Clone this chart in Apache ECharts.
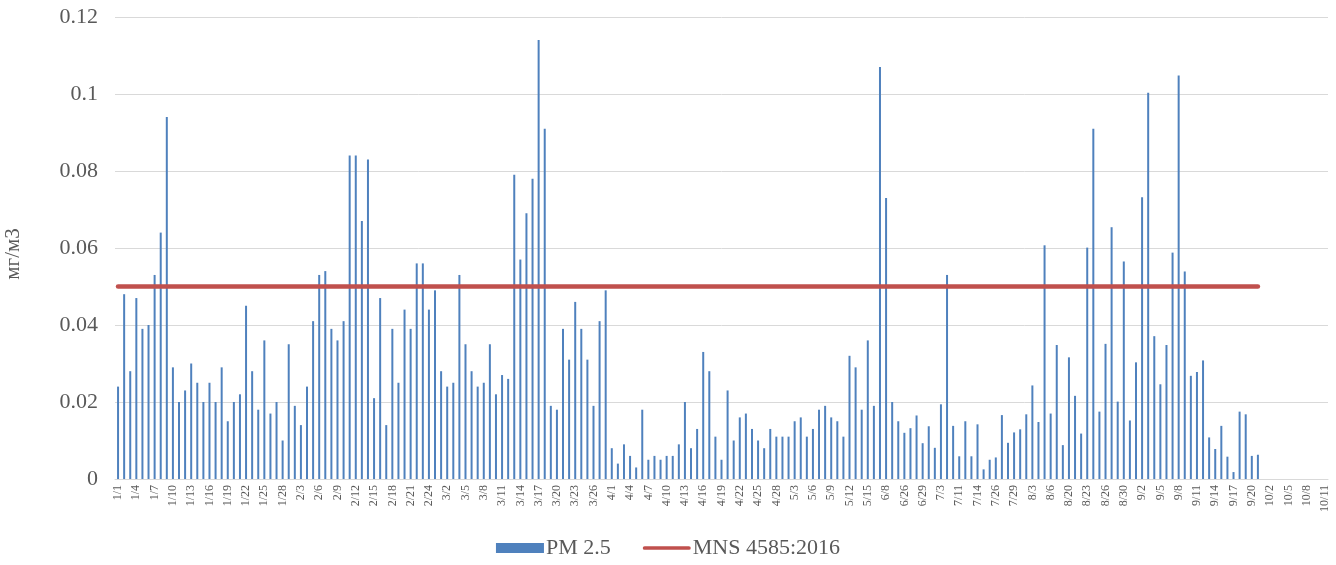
<!DOCTYPE html>
<html style="height: 100%">
    <head>
        <meta charset="utf-8">
    </head>
    <body style="height: 100%; margin: 0">
        <div id="container" style="width: 1336px; height: 565px"></div>

        <script type="text/javascript" src="https://cdn.jsdelivr.net/npm/echarts@6/dist/echarts.min.js"></script>

        <script type="text/javascript">
var dates = [
    '1/1','1/2','1/3','1/4','1/5','1/6','1/7','1/8','1/9','1/10',
    '1/11','1/12','1/13','1/14','1/15','1/16','1/17','1/18','1/19','1/20',
    '1/21','1/22','1/23','1/24','1/25','1/26','1/27','1/28','1/30','2/1',
    '2/3','2/4','2/5','2/6','2/7','2/8','2/9','2/10','2/11','2/12',
    '2/13','2/14','2/15','2/16','2/17','2/18','2/19','2/20','2/21','2/22',
    '2/23','2/24','2/26','2/28','3/2','3/3','3/4','3/5','3/6','3/7',
    '3/8','3/9','3/10','3/11','3/12','3/13','3/14','3/15','3/16','3/17',
    '3/18','3/19','3/20','3/21','3/22','3/23','3/24','3/25','3/26','3/28',
    '3/30','4/1','4/2','4/3','4/4','4/5','4/6','4/7','4/8','4/9',
    '4/10','4/11','4/12','4/13','4/14','4/15','4/16','4/17','4/18','4/19',
    '4/20','4/21','4/22','4/23','4/24','4/25','4/26','4/27','4/28','4/29',
    '5/1','5/3','5/4','5/5','5/6','5/7','5/8','5/9','5/10','5/11',
    '5/12','5/13','5/14','5/15','5/18','6/5','6/8','6/15','6/22','6/26',
    '6/27','6/28','6/29','6/30','7/1','7/3','7/5','7/8','7/11','7/12',
    '7/13','7/14','7/18','7/22','7/26','7/27','7/28','7/29','7/31','8/1',
    '8/3','8/4','8/5','8/6','8/10','8/15','8/20','8/21','8/22','8/23',
    '8/24','8/25','8/26','8/27','8/28','8/30','8/31','9/1','9/2','9/3',
    '9/4','9/5','9/6','9/7','9/8','9/9','9/10','9/11','9/12','9/13',
    '9/14','9/15','9/16','9/17','9/18','9/19','9/20','9/25','9/28','10/2',
    '10/3','10/4','10/5','10/6','10/7','10/8','10/9','10/10','10/11'
];

var pm25 = [
    0.024,0.048,0.028,0.047,0.039,0.040,0.053,0.064,0.094,0.029,
    0.020,0.023,0.030,0.025,0.020,0.025,0.020,0.029,0.015,0.020,
    0.022,0.045,0.028,0.018,0.036,0.017,0.020,0.010,0.035,0.019,
    0.014,0.024,0.041,0.053,0.054,0.039,0.036,0.041,0.084,0.084,
    0.067,0.083,0.021,0.047,0.014,0.039,0.025,0.044,0.039,0.056,
    0.056,0.044,0.049,0.028,0.024,0.025,0.053,0.035,0.028,0.024,
    0.025,0.035,0.022,0.027,0.026,0.079,0.057,0.069,0.078,0.114,
    0.091,0.019,0.018,0.039,0.031,0.046,0.039,0.031,0.019,0.041,
    0.049,0.008,0.004,0.009,0.006,0.003,0.018,0.005,0.006,0.005,
    0.006,0.006,0.009,0.020,0.008,0.013,0.033,0.028,0.011,0.005,
    0.023,0.010,0.016,0.017,0.013,0.010,0.008,0.013,0.011,0.011,
    0.011,0.015,0.016,0.011,0.013,0.018,0.019,0.016,0.015,0.011,
    0.032,0.029,0.018,0.036,0.019,0.107,0.073,0.020,0.015,0.012,
    0.0132,0.0165,0.0093,0.0137,0.0081,0.0194,0.053,0.0138,0.0059,0.015,
    0.0059,0.0142,0.0025,0.005,0.0056,0.0166,0.0094,0.0121,0.0129,0.0168,
    0.0243,0.0148,0.0607,0.017,0.0348,0.0088,0.0316,0.0216,0.0118,0.0601,
    0.091,0.0175,0.0351,0.0654,0.0201,0.0565,0.0152,0.0303,0.0732,0.1003,
    0.0371,0.0246,0.0348,0.0588,0.1048,0.0539,0.0268,0.0278,0.0308,0.0108,
    0.0078,0.0138,0.0058,0.0018,0.0175,0.0168,0.006,0.0063,null,null,
    null,null,null,null,null,null,null,null,null
];

// norm line MNS 4585:2016
var normLevel = 0.05;
var normStart = '1/1';
var normEnd = '9/25';

var yTicks = [0, 0.02, 0.04, 0.06, 0.08, 0.1, 0.12];

var dom = document.getElementById("container");
var myChart = echarts.init(dom);
var font = 'Liberation Serif';

var option = {
    animation: false,
    grid: {
        left: 115,
        right: 8,
        top: 17,
        bottom: 86,
        outerBoundsMode: 'none'
    },
    legend: {
        bottom: 1,
        left: 'center',
        itemWidth: 48,
        itemHeight: 10,
        itemGap: 32,
        textStyle: {
            fontFamily: font,
            fontSize: 22,
            color: '#595959',
            padding: [0, 0, 0, -3]
        },
        data: [
            {name: 'PM 2.5', icon: 'rect'},
            {name: 'MNS 4585:2016', icon: 'path://M2,0 H50 A2,2 0 0 1 50,4 H2 A2,2 0 0 1 2,0 Z'}
        ]
    },
    xAxis: {
        type: 'category',
        data: dates,
        axisLine: {lineStyle: {color: '#d9d9d9', width: 1}},
        axisTick: {
            interval: 0,
            length: 4,
            lineStyle: {color: '#d9d9d9'}
        },
        axisLabel: {
            interval: 2,
            rotate: 90,
            margin: 6,
            fontFamily: font,
            fontSize: 12,
            color: '#595959'
        }
    },
    yAxis: {
        type: 'value',
        min: yTicks[0],
        max: yTicks[yTicks.length - 1],
        interval: 0.02,
        name: 'мг/м3',
        nameLocation: 'middle',
        nameRotate: 90,
        nameGap: 91,
        nameTextStyle: {
            fontFamily: font,
            fontSize: 21,
            color: '#595959',
            padding: [0, 12, 0, 0]
        },
        axisLabel: {
            margin: 17,
            fontFamily: font,
            fontSize: 22,
            color: '#595959'
        },
        splitLine: {lineStyle: {color: '#d9d9d9', width: 1}}
    },
    series: [
        {
            name: 'PM 2.5',
            type: 'bar',
            data: pm25,
            barWidth: 2,
            itemStyle: {color: '#4f81bd'}
        },
        {
            name: 'MNS 4585:2016',
            type: 'line',
            data: [[normStart, normLevel], [normEnd, normLevel]],
            symbol: 'none',
            z: 3,
            itemStyle: {color: '#c0504d'},
            lineStyle: {color: '#c0504d', width: 4.5, cap: 'round'}
        }
    ]
};

if (option && typeof option === 'object') {
    myChart.setOption(option);
}
        </script>
    </body>
</html>
